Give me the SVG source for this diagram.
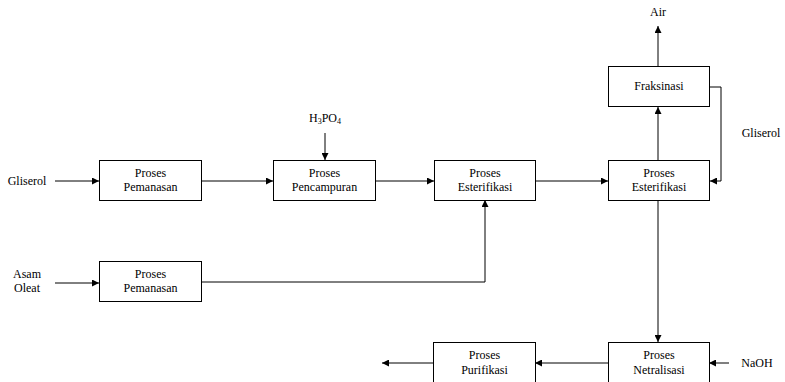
<svg xmlns="http://www.w3.org/2000/svg" width="785" height="382" viewBox="0 0 785 382">
<defs>
<marker id="ah" viewBox="0 0 8 8" refX="8" refY="4" markerWidth="7" markerHeight="7" markerUnits="userSpaceOnUse" orient="auto">
<path d="M0,0 L8,4 L0,8 z" fill="#000"/>
</marker>
<style>
.box{fill:#fff;stroke:#000;stroke-width:1}
.t{font-family:'Liberation Serif','Times New Roman','DejaVu Serif',serif;font-size:12px;fill:#000;text-anchor:middle}
.ln{fill:none;stroke:#000;stroke-width:1;marker-end:url(#ah)}
</style>
</defs>
<rect width="785" height="382" fill="#fff"/>
<g id="connectors">
<path class="ln" d="M55,181 H99"/>
<path class="ln" d="M201,181 H273"/>
<path class="ln" d="M325,133 V160"/>
<path class="ln" d="M376,181 H434"/>
<path class="ln" d="M535,181 H608"/>
<path class="ln" d="M55,283 H99"/>
<path class="ln" d="M201,282 H485 V200"/>
<path class="ln" d="M658,160 V107"/>
<path class="ln" d="M658,66 V26"/>
<path class="ln" d="M710,87 H721 V181 H710"/>
<path class="ln" d="M658,200 V342"/>
<path class="ln" d="M729,363 H709"/>
<path class="ln" d="M608,363 H535"/>
<path class="ln" d="M433,363 H382"/>
</g>
<g font-family="Liberation Serif, Times New Roman, serif">
<g id="lbl-gliserol-in"><text class="t" x="27" y="185">Gliserol</text></g>
<g id="lbl-h3po4"><text class="t" x="325" y="122">H<tspan font-size="8" dy="2">3</tspan><tspan dy="-2">PO</tspan><tspan font-size="8" dy="2">4</tspan></text></g>
<g id="lbl-asam"><text class="t" x="27" y="278">Asam</text><text class="t" x="27" y="292">Oleat</text></g>
<g id="lbl-air"><text class="t" x="658" y="16">Air</text></g>
<g id="lbl-gliserol-rec"><text class="t" x="761" y="137">Gliserol</text></g>
<g id="lbl-naoh"><text class="t" x="757" y="367">NaOH</text></g>
<g id="n-pemanasan1"><rect class="box" x="99.5" y="160.5" width="102" height="40"/><text class="t" x="150.5" y="176.5">Proses</text><text class="t" x="150.5" y="191">Pemanasan</text></g>
<g id="n-pencampuran"><rect class="box" x="273.5" y="160.5" width="102" height="40"/><text class="t" x="324.5" y="176.5">Proses</text><text class="t" x="324.5" y="191">Pencampuran</text></g>
<g id="n-esterifikasi1"><rect class="box" x="434.5" y="160.5" width="101" height="40"/><text class="t" x="485" y="176.5">Proses</text><text class="t" x="485" y="191">Esterifikasi</text></g>
<g id="n-esterifikasi2"><rect class="box" x="608.5" y="160.5" width="101" height="40"/><text class="t" x="659" y="176.5">Proses</text><text class="t" x="659" y="191">Esterifikasi</text></g>
<g id="n-fraksinasi"><rect class="box" x="608.5" y="66.5" width="101" height="40"/><text class="t" x="659" y="90">Fraksinasi</text></g>
<g id="n-pemanasan2"><rect class="box" x="99.5" y="261.5" width="102" height="40"/><text class="t" x="150.5" y="277.5">Proses</text><text class="t" x="150.5" y="292">Pemanasan</text></g>
<g id="n-netralisasi"><rect class="box" x="608.5" y="342.5" width="101" height="42"/><text class="t" x="659" y="359">Proses</text><text class="t" x="659" y="374">Netralisasi</text></g>
<g id="n-purifikasi"><rect class="box" x="433.5" y="342.5" width="102" height="42"/><text class="t" x="484.5" y="359">Proses</text><text class="t" x="484.5" y="374">Purifikasi</text></g>
</g>
</svg>
